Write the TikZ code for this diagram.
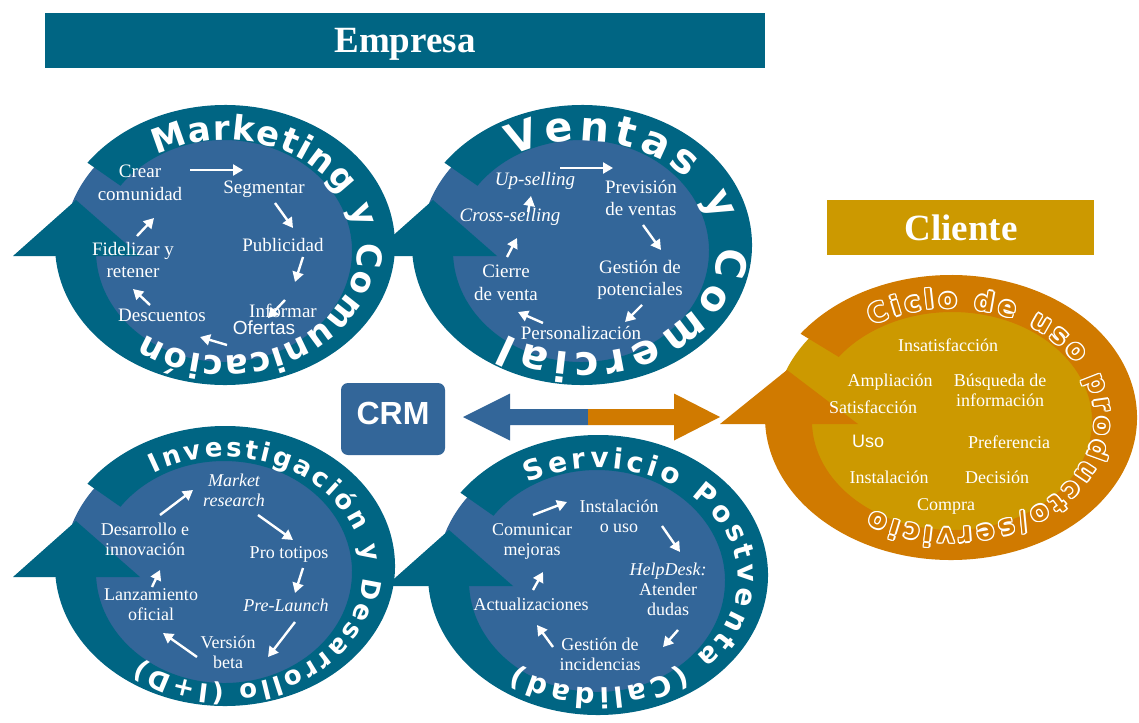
\documentclass[tikz,border=0pt]{standalone}
\usepackage{fontspec}
\setmainfont{Liberation Serif}
\setsansfont{Liberation Sans}
\newfontfamily\rfont{DejaVu Sans}
\usetikzlibrary{decorations.text,arrows.meta}
\definecolor{tealc}{RGB}{0,101,131}
\definecolor{blueI}{RGB}{51,102,153}
\definecolor{orng}{RGB}{208,122,0}
\definecolor{goldc}{RGB}{204,153,0}
\tikzset{
  lblM/.style={text=white, align=center, inner sep=0pt, font=\fontsize{19}{22.5}\selectfont},
  lblMi/.style={lblM, font=\fontsize{19}{22.5}\selectfont\itshape},
  lblS/.style={text=white, align=center, inner sep=0pt, font=\fontsize{18}{20}\selectfont},
  lblSi/.style={lblS, font=\fontsize{18}{20}\selectfont\itshape},
  arr/.style={draw=white, line width=2.4pt, -{Triangle[length=10pt,width=11pt]}},
  barbox/.style={inner sep=0pt, minimum height=55pt},
  bartxt/.style={text=white, inner sep=0pt, anchor=base, font=\bfseries\fontsize{37}{37}\selectfont},
}
\newcommand\bluecycle[2]{%
  \begin{scope}[shift={(#1,#2)}]
    \fill[blueI] (0,0) ellipse[x radius=161, y radius=133];
    \fill[tealc] (216:170 and 140) arc[start angle=216,end angle=545,x radius=170,y radius=140]
      -- (-128.5,-3.67) arc[start angle=545,end angle=216,x radius=128,y radius=111] -- cycle;
    \fill[tealc] (-212,11) -- (-149,-45) -- (-85,11) -- cycle;
  \end{scope}}
\newcommand\ringtext[7]{%
  \begin{scope}[shift={(#1,#2)}]
    \path[decorate,decoration={text along path,text align={fit to path},text={#7}}]
      (#5:#3 and #4) arc[start angle=#5,end angle=#6,x radius=#3,y radius=#4];
  \end{scope}}
\newcommand\arw[3]{\coordinate (#1a) at #2; \coordinate (#1b) at #3; \draw[arr] (#1a) -- (#1b);}
\begin{document}
\begin{tikzpicture}[x=1pt,y=-1pt]
\useasboundingbox (0,0) rectangle (1139,722);
\fill[white] (0,0) rectangle (1139,722);

% header bars
\node[barbox, fill=tealc, minimum width=720pt] (empbar) at (405,40.5) {};
\node[bartxt] (emp) at (405,53) {Empresa};
\node[barbox, fill=goldc, minimum width=267pt] (clibar) at (960.5,227.5) {};
\node[bartxt] (cli) at (961,240) {Cliente};

% cycles
\bluecycle{225}{245}
\bluecycle{582}{245}
\bluecycle{225}{566}
\bluecycle{598}{575}

% orange cycle
\begin{scope}[shift={(951,417.5)}]
  \fill[goldc] (0,0) ellipse[x radius=176, y radius=134];
  \fill[orng] (216:186 and 142.5) arc[start angle=216,end angle=545,x radius=186,y radius=142.5]
    -- (-138.47,-6.0) arc[start angle=545,end angle=216,x radius=140,y radius=109] -- cycle;
  \fill[orng] (-231,6.5) -- (-164,-47.5) -- (-93,6.5) -- cycle;
\end{scope}

% ring texts
\ringtext{225}{248}{133}{108}{239}{487}{|\rfont\bfseries\fontsize{34}{34}\selectfont\color{white}|Marketing y Comunicación}
\ringtext{582}{247}{136}{106}{239}{484}{|\rfont\bfseries\fontsize{41}{41}\selectfont\color{white}|Ventas y Comercial}
\ringtext{225}{571}{138}{114}{239}{488}{|\rfont\bfseries\fontsize{26}{26}\selectfont\color{white}|Investigación y Desarrollo (I+D)}
\ringtext{598}{578}{140}{110}{240}{486}{|\rfont\bfseries\fontsize{28}{28}\selectfont\color{white}|Servicio Postventa (Calidad)}
\foreach \dx/\dy in {1.4/0,-1.4/0,0/1.4,0/-1.4,1/1,-1/1,1/-1,-1/-1}{
  \begin{scope}[shift={(\dx,\dy)}]
    \ringtext{951}{418}{144}{110}{237}{483}{|\rfont\bfseries\fontsize{27}{27}\selectfont\color{white}|Ciclo de uso producto/servicio}
  \end{scope}}
\ringtext{951}{418}{144}{110}{237}{483}{|\rfont\bfseries\fontsize{27}{27}\selectfont\color{orng}|Ciclo de uso producto/servicio}

% CRM and double arrow
\node[fill=blueI, rounded corners=7pt, minimum width=104pt, minimum height=72pt, inner sep=0pt,
      text depth=11pt, text=white, font=\sffamily\bfseries\fontsize{32}{32}\selectfont] (crm) at (393,419) {CRM};
\fill[blueI] (463,417) -- (510,393.5) -- (510,409) -- (588,409) -- (588,425) -- (510,425) -- (510,440.5) -- cycle;
\fill[orng] (588,409) -- (674,409) -- (674,393.5) -- (720,417) -- (674,440.5) -- (674,425) -- (588,425) -- cycle;

% Marketing texts
\node[lblM] (m1) at (140,183) {Crear\\comunidad};
\node[lblM] (m2) at (264,189) {Segmentar};
\node[lblM] (m3) at (283,245) {Publicidad};
\node[lblM] (m4) at (283,311) {Informar};
\node[lblM, font=\sffamily\fontsize{19}{22}\selectfont] (m4b) at (264,328) {Ofertas};
\node[lblM] (m5) at (162,315) {Descuentos};
\node[lblM] (m6) at (133,260) {Fidelizar y\\retener};
\arw{ma1}{(190,170)}{(243,170)}
\arw{ma2}{(275,203)}{(293,228)}
\arw{ma3}{(303,257)}{(295,282)}
\arw{ma4}{(285,300)}{(268,318)}
\arw{ma5}{(227,345)}{(200,337)}
\arw{ma6}{(150,305)}{(133,289)}
\arw{ma7}{(137,236)}{(154,218)}

% Ventas texts
\node[lblMi] (v1) at (535,181) {Up-selling};
\node[lblMi] (v2) at (510,217) {Cross-selling};
\node[lblM] (v3) at (641,198) {Previsión\\de ventas};
\node[lblM] (v4) at (640,280) {Gestión de\\potenciales};
\node[lblM] (v5) at (581,333) {Personalización};
\node[lblM] (v6) at (506,283) {Cierre\\de venta};
\arw{va1}{(560,168)}{(613,168)}
\arw{va2}{(643,225)}{(661,250)}
\arw{va3}{(642,305)}{(625,322)}
\arw{va4}{(543,323)}{(518,312)}
\arw{va5}{(507,257)}{(517,238)}
\arw{va6}{(528,212)}{(531,196)}

% I+D texts
\node[lblSi] (i1) at (234,490) {Market\\research};
\node[lblS] (i2) at (289,554) {Pro totipos};
\node[lblSi] (i3) at (286,605) {Pre-Launch};
\node[lblS] (i4) at (228,652) {Versión\\beta};
\node[lblS] (i5) at (151,605) {Lanzamiento\\oficial};
\node[lblS] (i6) at (145,539) {Desarrollo e\\innovación};
\arw{ia1}{(160,515)}{(193,490)}
\arw{ia2}{(258,515)}{(293,540)}
\arw{ia3}{(303,568)}{(295,593)}
\arw{ia4}{(295,622)}{(268,657)}
\arw{ia5}{(197,657)}{(163,633)}
\arw{ia6}{(152,587)}{(160,570)}

% Servicio texts
\node[lblS] (s1) at (619,516) {Instalación\\o uso};
\node[lblS] (s2) at (668,589) {\textit{HelpDesk:}\\Atender\\dudas};
\node[lblS] (s3) at (600,654) {Gestión de\\incidencias};
\node[lblS] (s4) at (531,604) {Actualizaciones};
\node[lblS] (s5) at (532,541) {Comunicar\\mejoras};
\arw{sa1}{(533,515)}{(567,502)}
\arw{sa2}{(662,526)}{(680,552)}
\arw{sa3}{(678,630)}{(663,647)}
\arw{sa4}{(553,647)}{(537,625)}
\arw{sa5}{(533,590)}{(543,572)}

% Ciclo texts
\node[lblS] (c1) at (948,345) {Insatisfacción};
\node[lblS] (c2) at (890,382) {Ampliación};
\node[lblS] (c3) at (1000,390) {Búsqueda de\\información};
\node[lblS] (c4) at (873,407) {Satisfacción};
\node[lblS, font=\sffamily\fontsize{18}{20}\selectfont] (c5) at (868,441) {Uso};
\node[lblS] (c6) at (1009,442) {Preferencia};
\node[lblS] (c7) at (889,477) {Instalación};
\node[lblS] (c8) at (997,477) {Decisión};
\node[lblS] (c9) at (946,506) {Compra};
\end{tikzpicture}
\end{document}
